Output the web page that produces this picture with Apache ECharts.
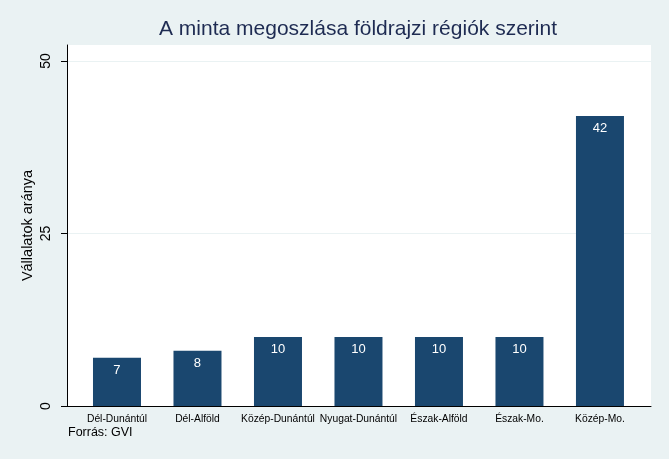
<!DOCTYPE html>
<html><head><meta charset="utf-8">
<script src="https://cdn.jsdelivr.net/npm/echarts@6/dist/echarts.min.js"></script>
<style>html,body{margin:0;padding:0;background:#eaf2f3}#c{width:669px;height:459px}</style>
</head><body><div id="c"></div>
<script>
const categories = ['Dél-Dunántúl','Dél-Alföld','Közép-Dunántúl','Nyugat-Dunántúl','Észak-Alföld','Észak-Mo.','Közép-Mo.'];
const values = [7, 8, 10, 10, 10, 10, 42];
const yTicks = [0, 25, 50];
const titleText = 'A minta megoszlása földrajzi régiók szerint';
const yName = 'Vállalatok aránya';
const note = 'Forrás: GVI';

const chart = echarts.init(document.getElementById('c'));
const font = 'Liberation Sans, Arial, sans-serif';
chart.setOption({
  backgroundColor: '#eaf2f3',
  animation: false,
  grid: { left: 67, right: 18, top: 45, bottom: 53, show: true, backgroundColor: '#ffffff', borderWidth: 0 },
  xAxis: {
    type: 'value', min: -0.621, max: 6.634,
    axisLine: { show: true, onZero: false, lineStyle: { color: '#000', width: 1 } },
    axisTick: { show: false },
    splitLine: { show: false },
    axisLabel: { customValues: categories.map((c, i) => i), formatter: v => categories[Math.round(v)], fontFamily: font, fontSize: 10.3, color: '#000', margin: 8 }
  },
  yAxis: {
    type: 'value', min: 0, max: 52.3,
    name: yName, nameLocation: 'middle', nameGap: 32, nameRotate: 90, nameMoveOverlap: false,
    nameTextStyle: { fontFamily: font, fontSize: 14.5, color: '#000' },
    axisLine: { show: true, onZero: false, lineStyle: { color: '#000', width: 1 } },
    axisTick: { show: true, length: 6, customValues: yTicks, lineStyle: { color: '#000' } },
    axisLabel: { customValues: yTicks, rotate: 90, fontFamily: font, fontSize: 14, color: '#000', margin: 14 },
    splitLine: { show: true, showMinLine: false, showMaxLine: true, lineStyle: { color: '#eaf2f3', width: 1 } }
  },
  series: [{
    type: 'bar', barWidth: 48,
    data: values.map((v, i) => [i, v]),
    itemStyle: { color: '#1a476f' },
    label: { show: true, position: 'insideTop', distance: 6, color: '#fff', fontFamily: font, fontSize: 13, formatter: p => p.value[1] }
  }],
  graphic: [
    { type: 'text', x: 358, y: 29, style: { text: titleText, fontFamily: font, fontSize: 21, fill: '#1e2b52', align: 'center', verticalAlign: 'middle' } },
    { type: 'text', left: 68, top: 426, style: { text: note, fontFamily: font, fontSize: 12.5, fill: '#000' } }
  ]
});
</script></body></html>
